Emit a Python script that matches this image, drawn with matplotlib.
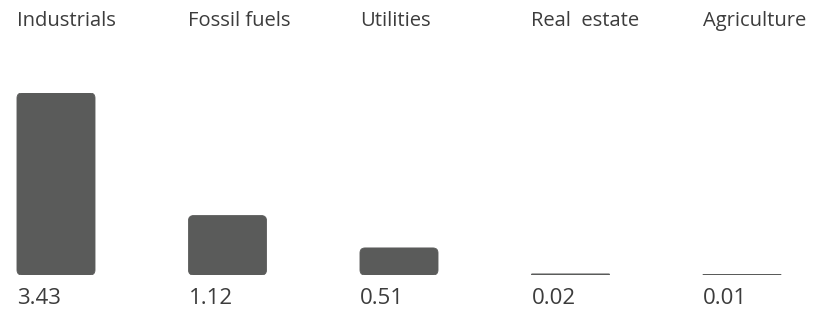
import matplotlib
matplotlib.use('Agg')
import matplotlib.pyplot as plt
from matplotlib.patches import FancyBboxPatch
from matplotlib.transforms import offset_copy

# data
categories = ['Industrials', 'Fossil fuels', 'Utilities', 'Real  estate', 'Agriculture']
values = [3.43, 1.12, 0.51, 0.02, 0.01]
value_labels = ['3.43', '1.12', '0.51', '0.02', '0.01']

bar_color = '#5a5b5a'
text_color = '#3c3c3c'
plt.rcParams['font.family'] = ['Open Sans', 'DejaVu Sans']

W, H = 816, 311
fig = plt.figure(figsize=(W / 100, H / 100), dpi=100)

# baseline ~275px from top, tallest bar top ~93px
base_px, top_px = 275, 93
ax = fig.add_axes([0, (H - base_px) / H, 1, (base_px - top_px) / H])
ax.set_xlim(-0.3265, 4.4315)
ax.set_ylim(0, max(values))
ax.axis('off')

bar_w = 0.455
px_x = W / (ax.get_xlim()[1] - ax.get_xlim()[0])
px_y = (base_px - top_px) / max(values)
aspect = px_x / px_y
r = 5 / px_x  # corner radius, x data units

cat_trans = offset_copy(ax.get_xaxis_transform(), fig=fig, y=top_px - 26, units='dots')
val_trans = offset_copy(ax.get_xaxis_transform(), fig=fig, y=base_px - 304, units='dots')

for i, (cat, v, lab) in enumerate(zip(categories, values, value_labels)):
    x0 = i - bar_w / 2
    rr = min(r, v / aspect / 2)
    p = FancyBboxPatch((x0, 0), bar_w, v,
                       boxstyle=f'round,pad=0,rounding_size={rr}',
                       mutation_aspect=aspect,
                       facecolor=bar_color, edgecolor=bar_color, linewidth=0.6)
    ax.add_patch(p)
    ax.text(x0, 1.0, cat, transform=cat_trans, ha='left', va='baseline',
            fontsize=14.5, color=text_color, clip_on=False)
    ax.text(x0, 0, lab, transform=val_trans, ha='left', va='baseline',
            fontsize=16, color=text_color, clip_on=False)

fig.savefig('out.png', dpi=100)
